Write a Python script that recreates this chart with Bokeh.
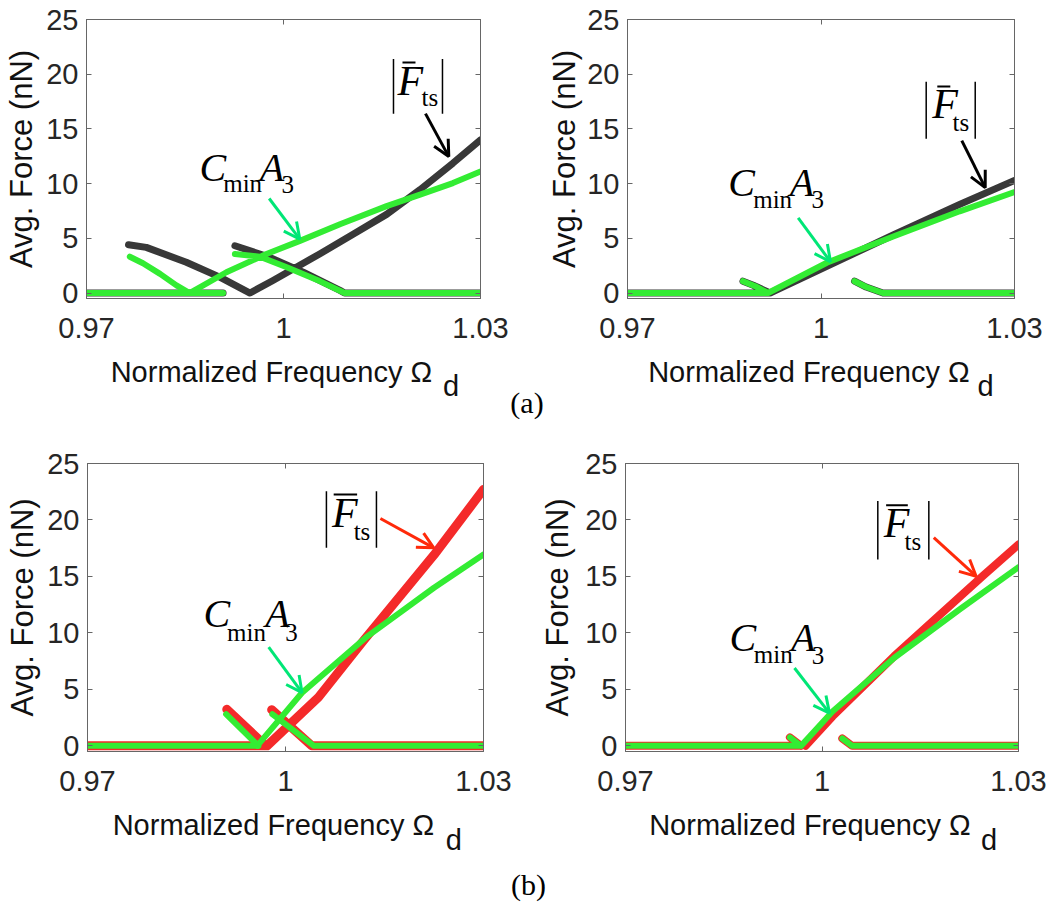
from bokeh.plotting import figure
from bokeh.models import (Range1d, LinearAxis, FixedTicker, Label, Arrow, OpenHead,
                          Div, Spacer, CustomJSTickFormatter)
from bokeh.layouts import column, row
from bokeh.embed import file_html
from bokeh.resources import INLINE

nan = float("nan")

# ---------------------------------------------------------------- ticks
freq_ticks = [0.97, 1.0, 1.03]
force_ticks = [0, 5, 10, 15, 20, 25]

# ---------------------------------------------------------------- data
# Each series is a set of branches separated by NaN (forward/backward sweeps).

# (a) left
a1_freq_fts = [0.97, 0.9908, nan,
               0.9764, 0.9791, 0.9852, 0.9903, 0.9949, 0.9984, 1.0055, 1.0106,
               1.0157, 1.0208, 1.0258, 1.03, nan,
               0.9926, 0.9979, 1.0030, 1.0086, 1.0093, 1.03]
a1_fts = [0, 0, nan,
          4.41, 4.17, 2.81, 1.45, 0.0, 1.15, 3.57, 5.38,
          7.19, 9.45, 11.87, 14.0, nan,
          4.32, 3.26, 1.90, 0.24, 0.0, 0.0]
a1_freq_ca3 = [0.97, 0.9908, nan,
               0.9766, 0.9786, 0.9812, 0.9837, 0.9857, 0.9913, 0.9974, 1.0025,
               1.0086, 1.0157, 1.0208, 1.0258, 1.03, nan,
               0.9926, 0.9964, 1.0005, 1.0055, 1.0093, 1.03]
a1_ca3 = [0, 0, nan,
          3.32, 2.72, 1.75, 0.70, 0.0, 1.90, 3.57, 4.77,
          6.29, 7.94, 9.0, 10.05, 11.1, nan,
          3.57, 3.32, 2.36, 1.09, 0.0, 0.0]

# (a) right
a2_freq_fts = [0.97, 0.9921, nan,
               0.9879, 0.9895, 0.9921, 1.0112, 1.0215, 1.03, nan,
               1.0052, 1.0070, 1.0096, 1.03]
a2_fts = [0, 0, nan,
          1.08, 0.71, 0.0, 5.3, 8.1, 10.3, nan,
          1.08, 0.55, 0.0, 0.0]
a2_freq_ca3 = [0.97, 0.9918, nan,
               0.9879, 0.9898, 0.9918, 1.0009, 1.0112, 1.0215, 1.03, nan,
               1.0052, 1.0070, 1.0096, 1.03]
a2_ca3 = [0, 0, nan,
          1.08, 0.62, 0.0, 2.77, 5.17, 7.47, 9.23, nan,
          1.08, 0.55, 0.0, 0.0]

# (b) left
b1_freq_fts = [0.97, 0.9972, nan,
               0.9911, 0.9970, nan,
               0.9972, 1.0050, 1.0118, 1.0225, 1.03, nan,
               0.9979, 1.0040, 1.03]
b1_fts = [0, 0, nan,
          3.24, 0.0, nan,
          0.0, 4.3, 9.3, 16.9, 22.7, nan,
          3.2, 0.0, 0.0]
b1_freq_ca3 = [0.97, 0.9959, nan,
               0.9910, 0.9959, nan,
               0.9957, 1.0025, 1.0124, 1.0225, 1.03, nan,
               0.9980, 1.0043, 1.03]
b1_ca3 = [0, 0, nan,
          2.8, 0.0, nan,
          0.0, 4.7, 9.7, 14.0, 16.95, nan,
          2.8, 0.0, 0.0]

# (b) right
b2_freq_fts = [0.97, 0.9968, nan,
               0.9951, 0.9968, nan,
               0.9975, 1.0016, 1.0110, 1.0245, 1.03, nan,
               1.0031, 1.0046, 1.03]
b2_fts = [0, 0, nan,
          0.75, 0.0, nan,
          0.0, 2.6, 7.93, 15.02, 17.83, nan,
          0.65, 0.0, 0.0]
b2_freq_ca3 = [0.97, 0.9968, nan,
               0.9951, 0.9968, nan,
               0.9968, 1.0016, 1.0110, 1.0212, 1.03, nan,
               1.0031, 1.0046, 1.03]
b2_ca3 = [0, 0, nan,
          0.75, 0.0, nan,
          0.0, 3.04, 7.78, 12.16, 15.82, nan,
          0.65, 0.0, 0.0]

# ---------------------------------------------------------------- styles
TEXT = "#262626"
LABEL = "#111111"
FRAME = "#666666"
BLACK_BAND = "#383838"
RED_BAND = "#f42a2a"
GREEN_BAND = "#33ec33"
GREEN_ARROW = "#00e676"
RED_ARROW = "#ff2a0a"
SANS = "Liberation Sans"
SERIF = "Liberation Serif"
SUBSCRIPT_D_X = 1.0255     # horizontal place of the "d" of Omega_d
NBSP = "\u00a0"


def style_axis(ax, ticks, show_labels):
    ax.ticker = FixedTicker(ticks=ticks)
    ax.axis_line_color = FRAME
    ax.axis_line_width = 1
    ax.major_tick_line_color = FRAME
    ax.major_tick_in = 5
    ax.major_tick_out = 0
    ax.minor_tick_line_color = None
    if show_labels:
        ax.major_label_text_font = SANS
        ax.major_label_text_font_size = "29px"
        ax.major_label_text_color = TEXT
    else:
        # mirror axis: tick marks only, takes no border space
        ax.formatter = CustomJSTickFormatter(code="return '';")
        ax.major_label_text_font_size = "0px"
        ax.major_label_standoff = -30


def make_panel(fw, fh, mbl, mbr, mbt, mbb, ylab_standoff, tick_standoff,
               xlab_standoff, sub_standoff):
    p = figure(frame_width=fw, frame_height=fh,
               min_border_left=mbl, min_border_right=mbr,
               min_border_top=mbt, min_border_bottom=mbb,
               x_range=Range1d(0.97, 1.03), y_range=Range1d(-0.5, 25),
               output_backend="svg", toolbar_location=None,
               background_fill_color="white", border_fill_color="white",
               outline_line_color=FRAME)
    p.xgrid.visible = False
    p.ygrid.visible = False

    xa = p.xaxis[0]
    style_axis(xa, freq_ticks, True)
    xa.formatter = CustomJSTickFormatter(code="return Number(tick.toFixed(2)).toString();")
    xa.major_label_standoff = tick_standoff
    # trailing no-break spaces leave room for the subscript drawn below
    xa.axis_label = "Normalized Frequency \u03a9" + NBSP * 3
    xa.axis_label_text_font = SANS
    xa.axis_label_text_font_style = "normal"
    xa.axis_label_text_font_size = "29px"
    xa.axis_label_text_color = LABEL
    xa.axis_label_standoff = xlab_standoff

    ya = p.yaxis[0]
    style_axis(ya, force_ticks, True)
    ya.major_label_standoff = 8
    ya.axis_label = "Avg. Force (nN)"
    ya.axis_label_text_font = SANS
    ya.axis_label_text_font_style = "normal"
    ya.axis_label_text_font_size = "31px"
    ya.axis_label_text_color = LABEL
    ya.axis_label_standoff = ylab_standoff

    right = LinearAxis()
    style_axis(right, force_ticks, False)
    p.add_layout(right, "right")
    top = LinearAxis()
    style_axis(top, freq_ticks, False)
    p.add_layout(top, "above")

    # subscript "d" of the x-axis title
    sub = LinearAxis(ticker=FixedTicker(ticks=[SUBSCRIPT_D_X]),
                     formatter=CustomJSTickFormatter(code="return 'd';"),
                     axis_line_color=None, major_tick_line_color=None,
                     minor_tick_line_color=None, major_label_standoff=sub_standoff,
                     major_label_text_font=SANS, major_label_text_font_size="29px",
                     major_label_text_color=LABEL)
    p.add_layout(sub, "below")
    return p


def seg(p, x0, y0, x1, y1, color="black", width=1.5):
    p.add_layout(Arrow(end=None, x_start=x0, y_start=y0, x_end=x1, y_end=y1,
                       line_color=color, line_width=width))


def arrow(p, xs, ys, xe, ye, color):
    p.add_layout(Arrow(end=OpenHead(size=16, line_width=3, line_color=color),
                       x_start=xs, y_start=ys, x_end=xe, y_end=ye,
                       line_color=color, line_width=3))


def txt(p, x, y, s, size, italic):
    p.add_layout(Label(x=x, y=y, text=s, text_font=SERIF,
                       text_font_style="italic" if italic else "normal",
                       text_font_size="%dpx" % size, text_color="black",
                       text_baseline="alphabetic", text_align="left",
                       y_offset=round(0.42 * size)))


def annotate(p, a, f_arrow_color):
    # |F_ts| with overbar
    (bx0, bx1), (by0, by1) = a["bars_x"], a["bars_y"]
    seg(p, bx0, by0, bx0, by1)
    seg(p, bx1, by0, bx1, by1)
    (mx0, mx1), my = a["macron_x"], a["macron_y"]
    seg(p, mx0, my, mx1, my, width=2)
    txt(p, *a["F"], "F", 42, True)
    txt(p, *a["ts"], "ts", 25, False)
    arrow(p, *a["F_arrow"], f_arrow_color)
    # C_min A_3
    txt(p, *a["C"], "C", 40, True)
    txt(p, *a["min"], "min", 25, False)
    txt(p, *a["A"], "A", 40, True)
    txt(p, *a["3"], "3", 25, False)
    arrow(p, *a["C_arrow"], GREEN_ARROW)


ann_a1 = dict(bars_x=(1.01675, 1.02421), bars_y=(21.38, 16.39),
              macron_x=(1.01812, 1.0201), macron_y=21.08,
              F=(1.01736, 17.75), ts=(1.02101, 17.0),
              F_arrow=(1.02162, 16.4, 1.02517, 12.47),
              C=(0.98721, 9.91), min=(0.99082, 9.06), A=(0.99639, 9.91), **{"3": (0.99970, 9.0)},
              C_arrow=(0.99782, 8.64, 1.00248, 4.93))
ann_a2 = dict(bars_x=(1.01631, 1.02391), bars_y=(19.32, 14.09),
              macron_x=(1.01803, 1.02005), macron_y=18.88,
              F=(1.01726, 15.63), ts=(1.02039, 14.70),
              F_arrow=(1.02183, 13.93, 1.02546, 9.63),
              C=(0.98561, 8.55), min=(0.98949, 7.63), A=(0.99515, 8.55), **{"3": (0.99853, 7.63)},
              C_arrow=(0.99646, 6.86, 1.00147, 2.86))
ann_b1 = dict(bars_x=(1.00620, 1.01378), bars_y=(22.55, 17.53),
              macron_x=(1.00730, 1.01085), macron_y=22.25,
              F=(1.00706, 19.01), ts=(1.01033, 18.13),
              F_arrow=(1.01438, 20.13, 1.02246, 17.53),
              C=(0.98759, 10.17), min=(0.99114, 9.13), A=(0.99694, 10.17), **{"3": (0.99998, 9.13)},
              C_arrow=(0.99745, 8.75, 1.00251, 4.71))
ann_b2 = dict(bars_x=(1.00852, 1.01631), bars_y=(21.68, 16.5),
              macron_x=(1.00979, 1.01310), macron_y=21.3,
              F=(1.00944, 18.13), ts=(1.01260, 17.24),
              F_arrow=(1.01707, 18.43, 1.02353, 15.02),
              C=(0.98588, 8.07), min=(0.98959, 7.19), A=(0.99528, 8.07), **{"3": (0.99844, 7.10)},
              C_arrow=(0.99580, 6.89, 1.00114, 2.9))


def band(p, x, y, color, width):
    p.line(x, y, line_color=color, line_width=width, line_join="round", line_cap="round")


# ---------------------------------------------------------------- panels
# panels sharing a row share frame top and frame height
p1 = make_panel(394, 279, 86, 30, 19, 122, 4, 19, 15, -27)
band(p1, a1_freq_fts, a1_fts, BLACK_BAND, 7)
band(p1, a1_freq_ca3, a1_ca3, GREEN_BAND, 6)
annotate(p1, ann_a1, "black")

p2 = make_panel(387, 279, 77, 49, 19, 122, 2, 19, 15, -27)
band(p2, a2_freq_fts, a2_fts, BLACK_BAND, 7)
band(p2, a2_freq_ca3, a2_ca3, GREEN_BAND, 6)
annotate(p2, ann_a2, "black")

p3 = make_panel(396, 288, 87, 47, 43, 116, 4, 19, 15, -26)
band(p3, b1_freq_fts, b1_fts, RED_BAND, 9)
band(p3, b1_freq_ca3, b1_ca3, GREEN_BAND, 6)
annotate(p3, ann_b1, RED_ARROW)

p4 = make_panel(393, 288, 95, 39, 43, 116, 7, 19, 15, -26)
band(p4, b2_freq_fts, b2_fts, RED_BAND, 8)
band(p4, b2_freq_ca3, b2_ca3, GREEN_BAND, 6)
annotate(p4, ann_b2, RED_ARROW)


def caption(s, width):
    html = ('<div style="width:%dpx;text-align:center;font-family:\'Liberation Serif\';'
            'font-size:30px;line-height:35px;color:#000;">%s</div>' % (width, s))
    return Div(text=html, width=width, height=35, margin=0)


# "(a)" sits in a narrow column between the two upper panels
mid = column(Spacer(width=34, height=385, margin=0), caption("(a)", 34), width=34)
layout = column(row(p1, mid, p2), row(p3, p4), caption("(b)", 1057))

open("out.html", "w").write(file_html(layout, INLINE))
